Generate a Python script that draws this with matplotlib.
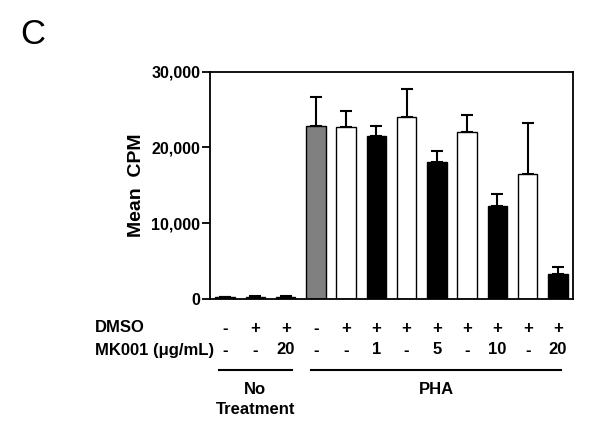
import matplotlib.pyplot as plt
import matplotlib.transforms as mtransforms

plt.rcParams['font.family'] = ['Liberation Sans', 'DejaVu Sans']

# values
means = [230, 260, 250, 22770, 22640, 21450, 24010, 18070, 22070, 12330, 16560, 3300]
sems = [80, 80, 80, 3830, 2110, 1410, 3700, 1400, 2160, 1550, 6660, 930]
colors = ['black', 'black', 'black', 'gray', 'white', 'black', 'white',
          'black', 'white', 'black', 'white', 'black']
dmso = ['-', '+', '+', '-', '+', '+', '+', '+', '+', '+', '+', '+']
mk001 = ['-', '-', '20', '-', '-', '1', '-', '5', '-', '10', '-', '20']
yticks = [0, 10000, 20000, 30000]
ytick_labels = ['0', '10,000', '20,000', '30,000']

fig = plt.figure(figsize=(6, 4.33), dpi=100)
ax = fig.add_axes([0.35, 0.3095, 0.605, 0.525])

x = list(range(len(means)))
ax.bar(x, means, width=0.65, color=colors, edgecolor='black', linewidth=1.0, zorder=2)
ax.errorbar(x, means, yerr=[[0] * len(sems), sems], fmt='none', ecolor='black',
            elinewidth=1.5, capsize=4, capthick=1.5, zorder=1)

ax.set_xlim(-0.5, 11.5)
ax.set_ylim(0, 30000)
ax.set_yticks(yticks)
ax.set_yticklabels(ytick_labels, fontsize=11.5, fontweight='bold')
ax.set_xticks([])
ax.tick_params(axis='y', direction='out', length=6, width=1.3, pad=1)
for s in ax.spines.values():
    s.set_linewidth(1.3)
ax.set_ylabel('Mean  CPM', fontsize=14, fontweight='bold')
ax.yaxis.set_label_coords(-0.178, 0.5)

# rows of conditions under the axis
trans = mtransforms.blended_transform_factory(ax.transData, fig.transFigure)
y_dmso = 1 - 328 / 433
y_mk = 1 - 350 / 433
for i in x:
    ax.text(i, y_dmso, dmso[i], transform=trans, ha='center', va='center',
            fontsize=12, fontweight='bold')
    ax.text(i, y_mk, mk001[i], transform=trans, ha='center', va='center',
            fontsize=12, fontweight='bold')
fig.text(95 / 600, y_dmso, 'DMSO', ha='left', va='center', fontsize=12, fontweight='bold')
fig.text(95 / 600, y_mk, 'MK001 (\u03bcg/mL)', ha='left', va='center',
         fontsize=12, fontweight='bold')

# group lines
y_line = 1 - 370 / 433
ax.plot([-0.2, 2.2], [y_line, y_line], transform=trans, color='black', lw=1.5, clip_on=False)
ax.plot([2.85, 11.1], [y_line, y_line], transform=trans, color='black', lw=1.5, clip_on=False)
ax.text(1, 1 - 390 / 433, 'No', transform=trans, ha='center', va='center',
        fontsize=12, fontweight='bold')
ax.text(1, 1 - 409 / 433, 'Treatment', transform=trans, ha='center', va='center',
        fontsize=12, fontweight='bold')
ax.text(7, 1 - 390 / 433, 'PHA', transform=trans, ha='center', va='center',
        fontsize=12, fontweight='bold')

fig.text(20 / 600, 1 - 34 / 433, 'C', ha='left', va='center', fontsize=25)

fig.savefig('out.png', dpi=100)
